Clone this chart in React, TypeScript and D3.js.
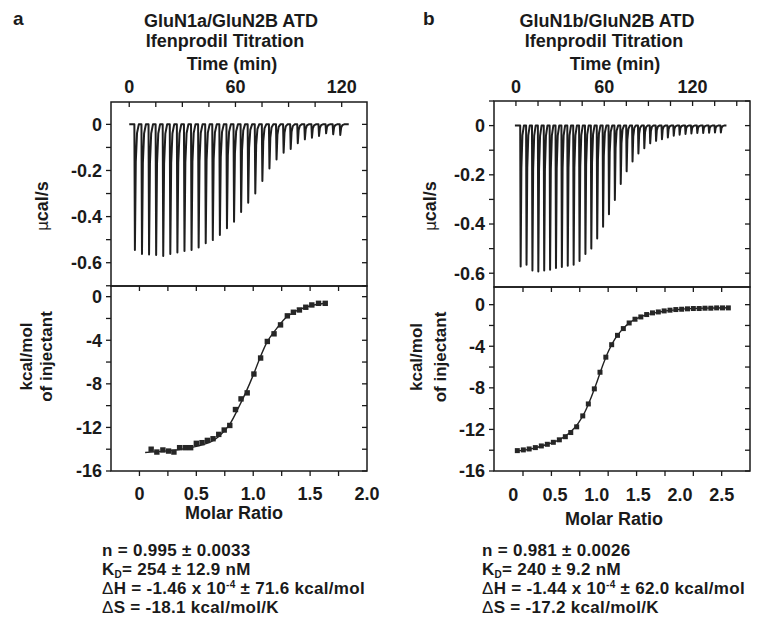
import React from 'react';
import * as d3 from 'd3';

// ---------- Panel a data ----------
const injTimesA = [3, 7, 11, 15, 19, 23, 27, 31, 35, 39, 43, 47, 51, 55, 59, 63, 67, 71, 75, 79, 83, 87, 91, 95, 99, 103, 107, 111, 115, 119];
const peaksA = [-0.545, -0.562, -0.564, -0.567, -0.571, -0.562, -0.556, -0.549, -0.545, -0.534, -0.516, -0.502, -0.48, -0.451, -0.422, -0.38, -0.34, -0.3, -0.246, -0.191, -0.152, -0.123, -0.107, -0.082, -0.065, -0.058, -0.05, -0.039, -0.043, -0.046];
const molarA = [0.103, 0.153, 0.206, 0.256, 0.303, 0.353, 0.403, 0.45, 0.5, 0.55, 0.597, 0.647, 0.697, 0.745, 0.794, 0.844, 0.893, 0.947, 1.006, 1.065, 1.124, 1.183, 1.24, 1.3, 1.353, 1.406, 1.462, 1.515, 1.574, 1.633];
const heatA = [-14.0, -14.26, -14.07, -14.17, -14.26, -13.86, -13.86, -13.86, -13.46, -13.4, -13.19, -13.04, -12.64, -12.24, -11.82, -10.36, -9.38, -8.83, -7.1, -5.63, -4.11, -3.41, -2.59, -1.76, -1.43, -1.22, -0.97, -0.76, -0.61, -0.61];
const fitMolarA = [0.05, 0.2, 0.4, 0.55, 0.65, 0.72, 0.8, 0.87, 0.93, 1.0, 1.06, 1.12, 1.2, 1.28, 1.38, 1.5, 1.63];
const fitHeatA = [-14.3, -14.2, -13.95, -13.6, -13.2, -12.6, -11.6, -10.2, -8.9, -7.2, -5.6, -4.2, -3.0, -2.0, -1.3, -0.85, -0.6];

// ---------- Panel b data ----------
const injTimesB = [3, 7, 11, 15, 19, 23, 27, 31, 35, 39, 43, 47, 51, 55, 59, 63, 67, 71, 75, 79, 83, 87, 91, 95, 99, 103, 107, 111, 115, 119, 123, 127, 131, 135, 139];
const peaksB = [-0.573, -0.566, -0.589, -0.593, -0.589, -0.586, -0.579, -0.575, -0.57, -0.566, -0.55, -0.522, -0.5, -0.459, -0.411, -0.36, -0.302, -0.237, -0.186, -0.146, -0.113, -0.092, -0.072, -0.062, -0.055, -0.048, -0.041, -0.037, -0.034, -0.032, -0.03, -0.03, -0.029, -0.028, -0.028];
const molarB = [0.048, 0.12, 0.19, 0.264, 0.336, 0.408, 0.48, 0.552, 0.624, 0.689, 0.76, 0.833, 0.9, 0.972, 1.04, 1.11, 1.18, 1.25, 1.32, 1.39, 1.46, 1.53, 1.6, 1.67, 1.74, 1.81, 1.88, 1.95, 2.02, 2.09, 2.16, 2.23, 2.3, 2.37, 2.44, 2.51, 2.58];
const heatB = [-14.04, -13.97, -13.88, -13.75, -13.59, -13.43, -13.24, -13.0, -12.7, -12.3, -11.75, -10.7, -9.55, -8.1, -6.5, -5.05, -3.85, -2.95, -2.3, -1.76, -1.4, -1.18, -0.95, -0.79, -0.7, -0.6, -0.53, -0.47, -0.44, -0.4, -0.37, -0.37, -0.34, -0.34, -0.31, -0.31, -0.31];
const fitMolarB = [0.03, 0.2, 0.4, 0.55, 0.68, 0.78, 0.86, 0.93, 1.0, 1.07, 1.14, 1.22, 1.3, 1.4, 1.55, 1.75, 2.0, 2.3, 2.6];
const fitHeatB = [-14.1, -13.9, -13.45, -13.0, -12.3, -11.4, -10.3, -9.0, -7.5, -5.9, -4.5, -3.3, -2.45, -1.7, -1.1, -0.7, -0.45, -0.33, -0.3];

// ---------- tick labels ----------
const timeLabels = [0, 60, 120];
const timeTicksA = [0, 15, 30, 45, 60, 75, 90, 105, 120];
const timeTicksB = [0, 15, 30, 45, 60, 75, 90, 105, 120, 135, 150];
const powerLabels = [0, -0.2, -0.4, -0.6];
const powerTicks = [0.1, 0, -0.1, -0.2, -0.3, -0.4, -0.5, -0.6, -0.7];
const heatLabels = [0, -4, -8, -12, -16];
const heatTicks = [0, -2, -4, -6, -8, -10, -12, -14, -16];
const molarLabelsA = ['0', '0.5', '1.0', '1.5', '2.0'];
const molarLabelsB = ['0', '0.5', '1.0', '1.5', '2.0', '2.5'];
const molarTicksA = [0, 0.25, 0.5, 0.75, 1.0, 1.25, 1.5, 1.75];
const molarTicksB = [0.116, 0.457, 0.797, 1.138, 1.479, 1.82, 2.16, 2.5];

const FONT = '"Liberation Sans", Arial, Helvetica, sans-serif';
const INK = '#1a1a1a';

type PanelProps = {
  letter: string;
  title1: string;
  x0: number; x1: number; yTop: number; yMid: number; yBot: number;
  timeDomain: [number, number];
  powerDomain: [number, number];
  heatDomain: [number, number];
  molarDomain: [number, number];
  timeTicks: number[];
  baseline: [number, number];
  injTimes: number[]; peaks: number[];
  molar: number[]; heat: number[]; fitMolar: number[]; fitHeat: number[];
  molarLabels: string[]; molarTicks: number[];
  letterX: number; titleCx: number; title2Cx: number; timeCx: number; molarCx: number; molarTitleY: number;
  ylab1X: number; ylab2aX: number; ylab2bX: number;
  params: { n: string; kd: string; dh1: string; dh2: string; ds: string };
  paramX: number; tickLabelY: number; markerSize: number;
};

const Panel: React.FC<PanelProps> = (p) => {
  const tx = d3.scaleLinear().domain(p.timeDomain).range([p.x0, p.x1]);
  const py = d3.scaleLinear().domain(p.powerDomain).range([p.yMid, p.yTop]);
  const mx = d3.scaleLinear().domain(p.molarDomain).range([p.x0, p.x1]);
  const hy = d3.scaleLinear().domain(p.heatDomain).range([p.yBot, p.yMid]);

  // thermogram trace
  const pts: [number, number][] = [[p.baseline[0], 0]];
  p.injTimes.forEach((t, i) => {
    const d = p.peaks[i];
    pts.push([t - 0.1, 0], [t + 0.2, d], [t + 0.7, d * 0.3], [t + 1.4, d * 0.07], [t + 2.4, 0]);
  });
  pts.push([p.baseline[1], 0]);
  const trace = d3.line<[number, number]>().x((d) => tx(d[0])).y((d) => py(d[1]))(pts) || '';

  const fitPts = p.fitMolar.map((m, i) => [m, p.fitHeat[i]] as [number, number]);
  const fit = d3.line<[number, number]>().x((d) => mx(d[0])).y((d) => hy(d[1])).curve(d3.curveMonotoneX)(fitPts) || '';

  const tl = 5;
  const fs = 18;
  const lx = p.x0 - 9;
  const ms = p.markerSize;
  const pyTicks = powerTicks.filter((v) => v >= p.powerDomain[0] - 0.001 && v <= p.powerDomain[1]);
  const ptY = p.molarTitleY;
  const pf = 17;

  return (
    <g fontFamily={FONT} fontWeight="bold" fill={INK}>
      <text x={p.letterX} y={25} fontSize={19}>{p.letter}</text>
      <text x={p.titleCx} y={27} fontSize={fs} textAnchor="middle">{p.title1}</text>
      <text x={p.title2Cx} y={47} fontSize={fs} textAnchor="middle">Ifenprodil Titration</text>
      <text x={p.timeCx} y={70} fontSize={fs} textAnchor="middle">Time (min)</text>
      {timeLabels.map((v) => (
        <text key={'tl' + v} x={tx(v)} y={93} fontSize={fs} textAnchor="middle">{v}</text>
      ))}

      {/* top panel ticks */}
      {p.timeTicks.map((v) => (
        <line key={'tt' + v} x1={tx(v)} x2={tx(v)} y1={p.yTop} y2={p.yTop + tl} stroke={INK} strokeWidth={1.3} />
      ))}
      {pyTicks.map((v) => (
        <g key={'pt' + v}>
          <line x1={p.x0 - tl} x2={p.x0} y1={py(v)} y2={py(v)} stroke={INK} strokeWidth={1.3} />
          <line x1={p.x1 - tl} x2={p.x1} y1={py(v)} y2={py(v)} stroke={INK} strokeWidth={1.3} />
        </g>
      ))}
      {powerLabels.map((v) => (
        <text key={'pl' + v} x={lx} y={py(v)} dy="0.36em" fontSize={fs} textAnchor="end">{v === 0 ? '0' : v.toFixed(1)}</text>
      ))}
      <text transform={`translate(${p.ylab1X},${(p.yTop + p.yMid) / 2 + 12}) rotate(-90)`} dy="0.36em" fontSize={fs} textAnchor="middle">
        <tspan fontWeight="normal" fontFamily='"DejaVu Sans", sans-serif' fontSize={15}>μ</tspan>cal/s
      </text>

      {/* trace */}
      <path d={trace} fill="none" stroke="#1e1e1e" strokeWidth={2} strokeLinejoin="round" />

      {/* bottom panel ticks */}
      {p.molarTicks.map((v) => (
        <g key={'mt' + v}>
          <line x1={mx(v)} x2={mx(v)} y1={p.yMid} y2={p.yMid + tl} stroke={INK} strokeWidth={1.3} />
          <line x1={mx(v)} x2={mx(v)} y1={p.yBot} y2={p.yBot + tl} stroke={INK} strokeWidth={1.3} />
        </g>
      ))}
      {heatTicks.map((v) => (
        <g key={'ht' + v}>
          <line x1={p.x0 - tl} x2={p.x0} y1={hy(v)} y2={hy(v)} stroke={INK} strokeWidth={1.3} />
          <line x1={p.x1 - tl} x2={p.x1} y1={hy(v)} y2={hy(v)} stroke={INK} strokeWidth={1.3} />
        </g>
      ))}
      {heatLabels.map((v) => (
        <text key={'hl' + v} x={lx} y={hy(v)} dy="0.36em" fontSize={fs} textAnchor="end">{v}</text>
      ))}
      {p.molarLabels.map((s) => (
        <text key={'ml' + s} x={mx(parseFloat(s))} y={p.tickLabelY} fontSize={fs} textAnchor="middle">{s}</text>
      ))}
      <text x={p.molarCx} y={ptY} fontSize={fs} textAnchor="middle">Molar Ratio</text>
      <text transform={`translate(${p.ylab2aX},${(p.yMid + p.yBot) / 2 - 22}) rotate(-90)`} dy="0.36em" fontSize={pf} textAnchor="middle">kcal/mol</text>
      <text transform={`translate(${p.ylab2bX},${(p.yMid + p.yBot) / 2 - 22}) rotate(-90)`} dy="0.36em" fontSize={pf} textAnchor="middle">of injectant</text>

      {/* fit & points */}
      <path d={fit} fill="none" stroke="#222" strokeWidth={1.4} />
      {p.molar.map((m, i) => (
        <rect key={'pt' + i} x={mx(m) - ms / 2} y={hy(p.heat[i]) - ms / 2} width={ms} height={ms} fill="#262626" />
      ))}

      {/* frames */}
      <rect x={p.x0} y={p.yTop} width={p.x1 - p.x0} height={p.yMid - p.yTop} fill="none" stroke={INK} strokeWidth={1.5} />
      <rect x={p.x0} y={p.yMid} width={p.x1 - p.x0} height={p.yBot - p.yMid} fill="none" stroke={INK} strokeWidth={1.5} />

      {/* parameters */}
      <g fontSize={pf} letterSpacing={0.3}>
        <text x={p.paramX} y={556}>{p.params.n}</text>
        <text x={p.paramX} y={575}>K<tspan fontSize={10} dy={3}>D</tspan><tspan dy={-3}>{p.params.kd}</tspan></text>
        <text x={p.paramX} y={594}>
          <tspan fontWeight="normal">Δ</tspan>H = {p.params.dh1}<tspan fontSize={10} dy={-6}>-4</tspan><tspan dy={6}>{p.params.dh2}</tspan>
        </text>
        <text x={p.paramX} y={613}><tspan fontWeight="normal">Δ</tspan>S = {p.params.ds}</text>
      </g>
    </g>
  );
};

export default function App() {
  return (
    <svg width={759} height={630} style={{ position: 'absolute', left: 0, top: 0, background: '#fff' }}>
      <rect width={759} height={630} fill="#fff" />
      <Panel
        letter="a" title1="GluN1a/GluN2B ATD"
        x0={111} x1={367} yTop={102} yMid={286} yBot={471}
        timeDomain={[-10.3, 134.3]} powerDomain={[-0.701, 0.097]} heatDomain={[-16, 0.98]} molarDomain={[-0.25, 2.0]}
        timeTicks={timeTicksA} baseline={[0, 124]}
        injTimes={injTimesA} peaks={peaksA} molar={molarA} heat={heatA} fitMolar={fitMolarA} fitHeat={fitHeatA}
        molarLabels={molarLabelsA} molarTicks={molarTicksA}
        letterX={13} titleCx={231} title2Cx={225} timeCx={232} molarCx={234} molarTitleY={519}
        ylab1X={42} ylab2aX={26} ylab2bX={46}
        params={{ n: 'n = 0.995 ± 0.0033', kd: '= 254 ± 12.9 nM', dh1: '-1.46 x 10', dh2: ' ± 71.6 kcal/mol', ds: '-18.1 kcal/mol/K' }}
        paramX={102} tickLabelY={500} markerSize={5.4}
      />
      <Panel
        letter="b" title1="GluN1b/GluN2B ATD"
        x0={494} x1={750} yTop={101} yMid={287} yBot={471}
        timeDomain={[-14.9, 159.0]} powerDomain={[-0.656, 0.1]} heatDomain={[-16, 1.7]} molarDomain={[-0.232, 2.84]}
        timeTicks={timeTicksB} baseline={[-0.7, 143]}
        injTimes={injTimesB} peaks={peaksB} molar={molarB} heat={heatB} fitMolar={fitMolarB} fitHeat={fitHeatB}
        molarLabels={molarLabelsB} molarTicks={molarTicksB}
        letterX={423} titleCx={607} title2Cx={604} timeCx={615} molarCx={614} molarTitleY={525}
        ylab1X={430} ylab2aX={416} ylab2bX={440}
        params={{ n: 'n = 0.981 ± 0.0026', kd: '= 240 ± 9.2 nM', dh1: '-1.44 x 10', dh2: ' ± 62.0 kcal/mol', ds: '-17.2 kcal/mol/K' }}
        paramX={482} tickLabelY={501} markerSize={5}
      />
    </svg>
  );
}
